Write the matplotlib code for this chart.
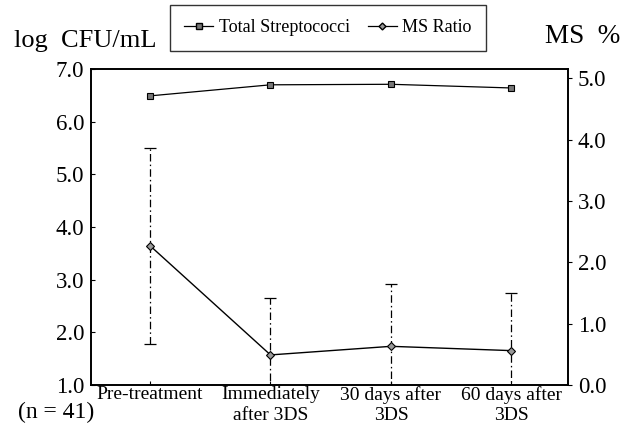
import matplotlib
matplotlib.use("Agg")
import matplotlib.pyplot as plt
from matplotlib.lines import Line2D

plt.rcParams['font.family'] = ['Liberation Serif', 'DejaVu Serif']

# time points
categories = ['Pre-treatment', 'Immediately\nafter 3DS', '30 days after\n3DS', '60 days after\n3DS']
# total streptococci, log CFU/mL (left axis)
total_strep = [6.49, 6.70, 6.71, 6.64]
# MS ratio in % (right axis) with SD
ms_ratio = [2.27, 0.49, 0.63, 0.56]
ms_sd = [1.60, 0.92, 1.02, 0.94]

left_ticks = [1.0, 2.0, 3.0, 4.0, 5.0, 6.0, 7.0]
right_ticks = [0.0, 1.0, 2.0, 3.0, 4.0, 5.0]

x = list(range(len(categories)))

fig = plt.figure(figsize=(6.34, 4.30), dpi=100)
ax = fig.add_axes([0.1435, 0.1047, 0.7525, 0.7348])
ax2 = ax.twinx()

# total streptococci on the left scale
ax.plot(x, total_strep, color='black', lw=0.9, marker='s', ms=4.5,
        mfc='#777777', mec='black', mew=0.8, zorder=3)
ax.set_ylim(1.0, 7.0)
ax.set_xlim(-0.49, 3.47)
ax.set_yticks(left_ticks)
ax.set_yticklabels(['%.1f' % v for v in left_ticks], fontsize=16.5)
ax.set_xticks(x)
ax.set_xticklabels(categories, fontsize=14, linespacing=1.25, va='top')
ax.tick_params(axis='y', direction='in', length=3, width=0.8, pad=5)
ax.tick_params(axis='x', direction='in', length=3, width=0.8, pad=1)

# MS ratio with dash-dot SD bars on the right scale
ax2.plot(x, ms_ratio, color='black', lw=1.0, marker='D', ms=4,
         mfc='#999999', mec='black', mew=0.8, zorder=3)
eb = ax2.errorbar(x, ms_ratio, yerr=ms_sd, fmt='none', ecolor='black',
                  elinewidth=0.9, capsize=4, capthick=0.9)
eb[2][0].set_linestyle((0, (6, 2.5, 1.2, 2.5)))
ax2.set_ylim(0.0, 5.15)
ax2.set_yticks(right_ticks)
ax2.set_yticklabels(['%.1f' % v for v in right_ticks], fontsize=16.5)
ax2.tick_params(axis='y', direction='out', length=3, width=0.8, pad=4)

for a in (ax, ax2):
    for s in a.spines.values():
        s.set_linewidth(1.2)

# axis titles
fig.text(0.022, 0.905, 'log  CFU/mL', fontsize=19, ha='left', va='center')
fig.text(0.86, 0.915, 'MS  %', fontsize=19.5, ha='left', va='center')
fig.text(0.028, 0.04, '(n = 41)', fontsize=17, ha='left', va='center')

handles = [
    Line2D([], [], color='black', lw=0.9, marker='s', ms=4, mfc='#777777', mec='black'),
    Line2D([], [], color='black', lw=0.9, marker='D', ms=3.5, mfc='#999999', mec='black'),
]
leg = fig.legend(handles, ['Total Streptococci', 'MS Ratio'], ncol=2,
                 loc='center', bbox_to_anchor=(0.517, 0.935),
                 fontsize=13, frameon=True, fancybox=False, edgecolor='black',
                 handlelength=1.6, handletextpad=0.3, columnspacing=1.0,
                 borderpad=0.8)
leg.get_frame().set_linewidth(1.0)

fig.savefig('out.png', dpi=100)
